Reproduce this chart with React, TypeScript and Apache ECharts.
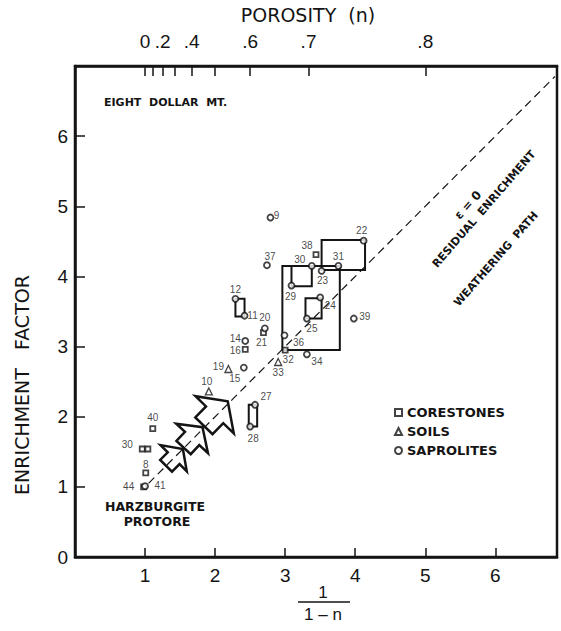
import React, { useEffect, useRef } from 'react';
import * as echarts from 'echarts';

// Axis ticks
const xTickValues = [1, 2, 3, 4, 5, 6];
const yTickValues = [0, 1, 2, 3, 4, 5, 6];
const porosityTicks = [0, 0.1, 0.2, 0.3, 0.4, 0.5, 0.6, 0.7, 0.8];
const porosityLabels = [0, 0.2, 0.4, 0.6, 0.7, 0.8];

// Samples: [label, 1/(1-n), enrichment factor]
const corestones: [string, number, number][] = [
  ['44', 0.98, 1.0],
  ['8', 1.01, 1.2],
  ['30', 0.96, 1.54],
  ['', 1.04, 1.54],
  ['40', 1.11, 1.83],
  ['16', 2.43, 2.96],
  ['21', 2.69, 3.2],
  ['38', 3.44, 4.31],
  ['32', 3.0, 2.95],
];
const soils: [string, number, number][] = [
  ['10', 1.91, 2.36],
  ['19', 2.19, 2.68],
  ['33', 2.9, 2.78],
];
const saprolites: [string, number, number][] = [
  ['41', 1.0, 1.01],
  ['15', 2.41, 2.7],
  ['14', 2.43, 3.08],
  ['12', 2.29, 3.68],
  ['11', 2.42, 3.44],
  ['20', 2.71, 3.26],
  ['27', 2.57, 2.17],
  ['28', 2.5, 1.86],
  ['36', 2.99, 3.16],
  ['34', 3.31, 2.89],
  ['25', 3.31, 3.4],
  ['24', 3.5, 3.7],
  ['39', 3.98, 3.4],
  ['29', 3.09, 3.87],
  ['30', 3.38, 4.15],
  ['31', 3.76, 4.15],
  ['23', 3.52, 4.08],
  ['22', 4.12, 4.51],
  ['37', 2.74, 4.16],
  ['9', 2.79, 4.84],
];

// Paired-sample boxes: [x1, y1, x2, y2]
const pairBoxes: [number, number, number, number][] = [
  [2.29, 3.43, 2.42, 3.68],
  [2.48, 1.86, 2.6, 2.17],
  [2.96, 2.95, 3.78, 4.15],
  [3.09, 3.86, 3.38, 4.15],
  [3.29, 3.4, 3.52, 3.69],
  [3.52, 4.09, 4.14, 4.52],
];

// Weathering arrows: [tipX, tipY, tailX, tailY]
const weatheringArrows: [number, number, number, number][] = [
  [1.54, 1.54, 1.3, 1.3],
  [1.82, 1.85, 1.55, 1.56],
  [2.18, 2.22, 1.84, 1.87],
];

// Constant-volume (strain = 0) path
const strainLine: [number, number][] = [
  [1.05, 1.05],
  [6.85, 6.85],
];

// Label offsets in pixels, keyed by group and sample label
const labelOffsets: Record<string, [number, number]> = {
  'c44': [-15, 0], 'c8': [0, -8], 'c30': [-15, -4], 'c40': [0, -11], 'c16': [-10, 1],
  'c21': [-2, 10], 'c38': [-9, -9], 'c32': [3, 9],
  's10': [-2, -10], 's19': [-10, -3], 's33': [0, 10],
  'p41': [15, -1], 'p15': [-9, 11], 'p14': [-10, -2], 'p12': [0, -9], 'p11': [8, 0],
  'p20': [0, -11], 'p27': [11, -8], 'p28': [3, 12], 'p36': [14, 7], 'p34': [10, 7],
  'p25': [5, 10], 'p24': [10, 8], 'p39': [11, -2], 'p29': [-1, 11], 'p30': [-12, -6],
  'p31': [0, -9], 'p23': [1, 10], 'p22': [-2, -10], 'p37': [3, -9], 'p9': [6, -2],
};

const INK = '#141414';
const FONT = 'Liberation Sans, Arial, sans-serif';
const BOLD = 'DejaVu Sans, Verdana, sans-serif';

function toItems(group: string, rows: [string, number, number][]) {
  return rows.map(([name, x, y]) => ({
    name,
    value: [x, y],
    label: {
      show: name !== '',
      position: 'inside',
      offset: labelOffsets[group + name] || [0, -8],
      formatter: name,
      color: INK,
      textBorderWidth: 0,
      textBorderColor: 'transparent',
      fontSize: 10,
      fontFamily: FONT,
    },
  }));
}

function porosityText(v: number) {
  const n = Math.round((1 - 1 / v) * 10) / 10;
  return n === 0 ? '0' : '.' + Math.round(n * 10);
}

export default function App() {
  const ref = useRef<HTMLDivElement>(null);

  useEffect(() => {
    if (!ref.current) return;
    const chart = echarts.init(ref.current, null, { renderer: 'svg' });
    const deg = Math.PI / 180;

    const axisCommon = {
      axisLine: { show: true, lineStyle: { color: INK, width: 2.5 } },
      splitLine: { show: false },
    };
    const tickLabel = { fontSize: 19, fontFamily: FONT, color: INK };
    const pointLabel = { color: INK, textBorderWidth: 0, textBorderColor: 'transparent' };

    chart.setOption({
      animation: false,
      backgroundColor: '#fff',
      grid: {
        left: 75, right: 4, top: 66, bottom: 74,
        show: true, borderColor: INK, borderWidth: 2.5,
      },
      legend: {
        orient: 'vertical',
        left: 389,
        top: 401,
        itemWidth: 7,
        itemHeight: 7,
        itemGap: 6,
        textStyle: { fontSize: 13, fontWeight: 'bold', fontFamily: BOLD, color: INK },
        data: ['CORESTONES', 'SOILS', 'SAPROLITES'],
      },
      xAxis: [
        {
          type: 'value', min: 0, max: 6.88, position: 'bottom',
          ...axisCommon,
          axisTick: { show: true, inside: true, length: 9, customValues: xTickValues, lineStyle: { color: INK, width: 1.5 } },
          axisLabel: { customValues: xTickValues, ...tickLabel, margin: 9 },
        },
        {
          type: 'value', min: 0, max: 6.88, position: 'top',
          ...axisCommon,
          name: 'POROSITY  (n)',
          nameLocation: 'middle',
          nameGap: 42,
          nameTextStyle: { fontSize: 19, fontFamily: BOLD, color: INK, padding: [0, 16, 0, 0] },
          axisTick: {
            show: true, inside: true, length: 10,
            customValues: porosityTicks.map((n) => 1 / (1 - n)),
            lineStyle: { color: INK, width: 1.5 },
          },
          axisLabel: {
            customValues: porosityLabels.map((n) => 1 / (1 - n)),
            formatter: (v: number) => porosityText(v),
            ...tickLabel, margin: 15,
          },
        },
      ],
      yAxis: {
        type: 'value', min: 0, max: 7,
        ...axisCommon,
        axisTick: { show: true, inside: true, length: 10, customValues: yTickValues.slice(1), lineStyle: { color: INK, width: 1.5 } },
        axisLabel: { customValues: yTickValues, ...tickLabel, margin: 7 },
      },
      series: [
        {
          type: 'line',
          data: strainLine,
          symbol: 'none',
          silent: true,
          z: 4,
          lineStyle: { color: INK, width: 1.2, type: [8, 5] },
        },
        {
          type: 'custom',
          data: weatheringArrows,
          encode: { x: [0, 2], y: [1, 3] },
          z: 3,
          renderItem: (_p: any, api: any) => {
            const tip = api.coord([api.value(0), api.value(1)]);
            const tail = api.coord([api.value(2), api.value(3)]);
            const dx = tip[0] - tail[0];
            const dy = tip[1] - tail[1];
            const len = Math.hypot(dx, dy);
            const ux = dx / len, uy = dy / len;
            const px = -uy, py = ux;
            const hw = len * 0.78, hl = len * 0.55, sw = hw * 0.45;
            const bx = tip[0] - ux * hl, by = tip[1] - uy * hl;
            return {
              type: 'polygon',
              shape: {
                points: [
                  tip,
                  [bx + px * hw, by + py * hw],
                  [bx + px * sw, by + py * sw],
                  [tail[0] + px * sw, tail[1] + py * sw],
                  [tail[0] - px * sw, tail[1] - py * sw],
                  [bx - px * sw, by - py * sw],
                  [bx - px * hw, by - py * hw],
                ],
              },
              style: { fill: '#fff', stroke: INK, lineWidth: 2.5, lineJoin: 'miter' },
            };
          },
        },
        {
          type: 'custom',
          data: pairBoxes,
          encode: { x: [0, 2], y: [1, 3] },
          z: 3,
          renderItem: (_p: any, api: any) => {
            const a = api.coord([api.value(0), api.value(3)]);
            const b = api.coord([api.value(2), api.value(1)]);
            return {
              type: 'rect',
              shape: { x: a[0], y: a[1], width: b[0] - a[0], height: b[1] - a[1] },
              style: { fill: 'none', stroke: INK, lineWidth: 2 },
            };
          },
        },
        {
          name: 'CORESTONES',
          type: 'scatter',
          symbol: 'rect',
          symbolSize: 5,
          z: 5,
          label: pointLabel,
          itemStyle: { color: '#fff', borderColor: INK, borderWidth: 1.8 },
          data: toItems('c', corestones),
        },
        {
          name: 'SOILS',
          type: 'scatter',
          symbol: 'triangle',
          symbolSize: 7,
          z: 5,
          label: pointLabel,
          itemStyle: { color: '#fff', borderColor: INK, borderWidth: 1.3 },
          data: toItems('s', soils),
        },
        {
          name: 'SAPROLITES',
          type: 'scatter',
          symbol: 'circle',
          symbolSize: 6,
          z: 5,
          label: pointLabel,
          itemStyle: { color: '#fff', borderColor: INK, borderWidth: 1.8 },
          data: toItems('p', saprolites),
        },
      ],
      graphic: [
        {
          type: 'text', x: 22, y: 385, rotation: 90 * deg,
          style: { text: 'ENRICHMENT   FACTOR', font: `19px ${BOLD}`, fill: INK, textAlign: 'center', textVerticalAlign: 'middle' },
        },
        {
          type: 'text', x: 323, y: 592,
          style: { text: '1', font: `17px ${FONT}`, fill: INK, textAlign: 'center', textVerticalAlign: 'middle' },
        },
        {
          type: 'line', shape: { x1: 298, y1: 602, x2: 350, y2: 602 },
          style: { stroke: INK, lineWidth: 1.5 },
        },
        {
          type: 'text', x: 323, y: 614,
          style: { text: '1 – n', font: `17px ${FONT}`, fill: INK, textAlign: 'center', textVerticalAlign: 'middle' },
        },
        {
          type: 'text', x: 104, y: 102,
          style: { text: 'EIGHT  DOLLAR  MT.', font: `bold 11px ${BOLD}`, fill: INK, textAlign: 'left', textVerticalAlign: 'middle' },
        },
        {
          type: 'text', x: 155, y: 506,
          style: { text: 'HARZBURGITE', font: `bold 12.5px ${BOLD}`, fill: INK, textAlign: 'center', textVerticalAlign: 'middle' },
        },
        {
          type: 'text', x: 157, y: 521,
          style: { text: 'PROTORE', font: `bold 12.5px ${BOLD}`, fill: INK, textAlign: 'center', textVerticalAlign: 'middle' },
        },
        {
          type: 'text', x: 468, y: 205, rotation: 48 * deg,
          style: { text: 'ε = 0', font: `bold 12px ${BOLD}`, fill: INK, textAlign: 'center', textVerticalAlign: 'middle' },
        },
        {
          type: 'text', x: 484, y: 209, rotation: 49 * deg,
          style: { text: 'RESIDUAL  ENRICHMENT', font: `bold 11px ${BOLD}`, fill: INK, textAlign: 'center', textVerticalAlign: 'middle' },
        },
        {
          type: 'text', x: 496, y: 259, rotation: 49 * deg,
          style: { text: 'WEATHERING  PATH', font: `bold 11px ${BOLD}`, fill: INK, textAlign: 'center', textVerticalAlign: 'middle' },
        },
      ],
    });

    return () => chart.dispose();
  }, []);

  return <div ref={ref} style={{ position: 'fixed', left: 0, top: 0, width: 561, height: 631 }} />;
}
